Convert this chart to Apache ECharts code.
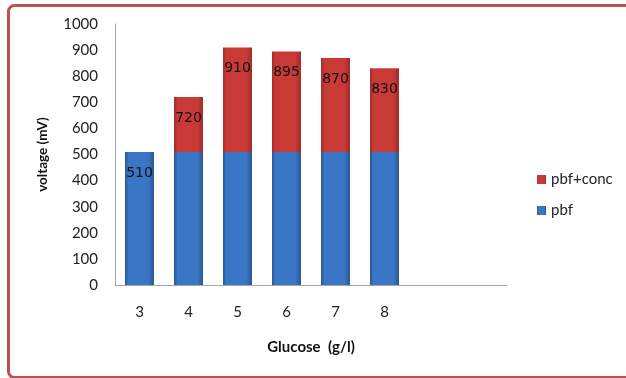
<!DOCTYPE html>
<html>
<head>
<meta charset="utf-8">
<script src="https://cdn.jsdelivr.net/npm/echarts@6/dist/echarts.min.js"></script>
<style>
html,body{margin:0;padding:0;background:#fff;}
#c{width:626px;height:378px;}
</style>
</head>
<body>
<div id="c"></div>
<script>
var categories = ['3', '4', '5', '6', '7', '8'];
var pbf = [510, 510, 510, 510, 510, 510];
var totals = [510, 720, 910, 895, 870, 830];
var pbfConc = [0, 210, 400, 385, 360, 320];
var yTicks = [0, 100, 200, 300, 400, 500, 600, 700, 800, 900, 1000];

var axisFont = 'Lato, "Open Sans", sans-serif';
var chart = echarts.init(document.getElementById('c'), null, {renderer: 'canvas'});

function grad(edge, mid) {
  return new echarts.graphic.LinearGradient(0, 0, 1, 0, [
    {offset: 0, color: edge}, {offset: 0.12, color: mid},
    {offset: 0.8, color: mid}, {offset: 1, color: edge}
  ]);
}
var blue = grad('#2b5793', '#3a76c6');
var red = grad('#a02c2a', '#c93a37');

var xData = categories.concat(['', '']);
var labelCfg = {
  show: true, position: 'insideTop', distance: 14,
  fontFamily: '"DejaVu Sans", Verdana, sans-serif', fontSize: 14, color: '#111',
  formatter: function (p) { return totals[p.dataIndex]; }
};

chart.setOption({
  animation: false,
  graphic: [{
    type: 'rect', silent: true,
    shape: {x: 8.5, y: 5.5, width: 700, height: 372, r: 6},
    style: {fill: 'none', stroke: '#c0504d', lineWidth: 3}
  }],
  grid: {left: 115, top: 24, right: 119, bottom: 93, containLabel: false},
  legend: {
    orient: 'vertical', left: 532, top: 167, itemWidth: 9, itemHeight: 9, itemGap: 16,
    icon: 'rect',
    textStyle: {fontFamily: axisFont, fontSize: 15, color: '#222'},
    data: ['pbf+conc', 'pbf']
  },
  xAxis: {
    type: 'category', data: xData,
    axisLine: {lineStyle: {color: '#a6a6a6', width: 1}},
    axisTick: {show: false},
    axisLabel: {fontFamily: axisFont, fontSize: 15, color: '#222', margin: 20},
    name: 'Glucose  (g/l)', nameLocation: 'middle', nameGap: 55,
    nameTextStyle: {fontFamily: axisFont, fontSize: 15, fontWeight: 'bold', color: '#111'}
  },
  yAxis: {
    type: 'value', min: 0, max: 1000, interval: 100,
    axisLine: {show: true, lineStyle: {color: '#a6a6a6', width: 1}},
    axisTick: {show: false},
    splitLine: {show: false},
    axisLabel: {fontFamily: axisFont, fontSize: 15, color: '#222', margin: 17,
      formatter: function (v) { return yTicks.indexOf(v) >= 0 ? String(v) : ''; }},
    name: 'voltage (mV)', nameLocation: 'middle', nameGap: 65, nameRotate: 90,
    nameTextStyle: {fontFamily: axisFont, fontSize: 13.5, fontWeight: 'bold', color: '#111'}
  },
  series: [
    {
      name: 'pbf', type: 'bar', stack: 'v', barWidth: 29,
      itemStyle: {color: blue},
      data: pbf.map(function (v, i) {
        return {value: v, label: Object.assign({}, labelCfg, {show: pbfConc[i] === 0})};
      })
    },
    {
      name: 'pbf+conc', type: 'bar', stack: 'v', barWidth: 29,
      itemStyle: {color: red},
      data: pbfConc.map(function (v) {
        return v === 0 ? '-' : {value: v, label: labelCfg};
      })
    }
  ]
});
</script>
</body>
</html>
